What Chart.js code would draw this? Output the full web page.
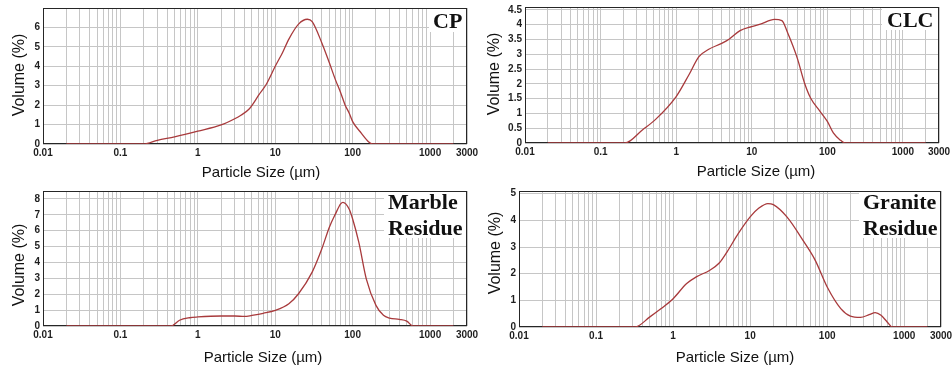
<!DOCTYPE html>
<html><head><meta charset="utf-8">
<script src="https://cdn.jsdelivr.net/npm/chart.js@4.4.1/dist/chart.umd.min.js"></script>
<style>
html,body{margin:0;padding:0;background:#fff;width:952px;height:371px;overflow:hidden;}
canvas{position:absolute;}
</style></head><body>
<canvas id="c1" width="480" height="185" style="left:0;top:0"></canvas>
<canvas id="c2" width="476" height="185" style="left:476px;top:0"></canvas>
<canvas id="c3" width="480" height="186" style="left:0;top:185px"></canvas>
<canvas id="c4" width="476" height="186" style="left:476px;top:185px"></canvas>
<script>
// ---- data ----
const xTickLabels = [0.01, 0.1, 1, 10, 100, 1000, 3000];
const xTitle = 'Particle Size (µm)';
const yTitle = 'Volume (%)';

const cpYTicks = [0, 1, 2, 3, 4, 5, 6];
const clcYTicks = [0, 0.5, 1, 1.5, 2, 2.5, 3, 3.5, 4, 4.5];
const marbleYTicks = [0, 1, 2, 3, 4, 5, 6, 7, 8];
const graniteYTicks = [0, 1, 2, 3, 4, 5];

const cpSize = [0.02, 0.2, 0.3, 0.5, 1, 2, 3, 3.6, 4.6, 6.2, 7.6, 10, 12.4, 15, 20, 26, 30, 40, 50, 60, 70, 80, 90, 100, 130, 160, 180, 2000];
const cpVol  = [0, 0, 0.19, 0.37, 0.66, 0.98, 1.3, 1.48, 1.8, 2.55, 3.05, 4.0, 4.7, 5.4, 6.17, 6.42, 6.3, 5.2, 4.18, 3.3, 2.64, 2.0, 1.6, 1.15, 0.55, 0.12, 0, 0];

const clcSize = [0.02, 0.21, 0.36, 0.53, 1, 1.47, 2, 2.7, 4, 5, 7, 10, 13, 20, 25, 30, 40, 50, 60, 80, 100, 120, 150, 170, 2000];
const clcVol  = [0, 0, 0.45, 0.79, 1.57, 2.3, 2.92, 3.17, 3.37, 3.51, 3.8, 3.94, 4.02, 4.18, 4.14, 3.71, 2.87, 2.02, 1.52, 1.07, 0.73, 0.34, 0.09, 0, 0];

const marbleSize = [0.02, 0.45, 0.58, 0.78, 1, 2, 3, 4, 5, 7, 10, 15, 20, 30, 40, 50, 60, 70, 75, 90, 100, 120, 150, 200, 250, 300, 400, 500, 600, 2000];
const marbleVol  = [0, 0, 0.36, 0.52, 0.57, 0.63, 0.63, 0.6, 0.67, 0.8, 0.98, 1.4, 2.03, 3.39, 4.86, 6.22, 7.06, 7.69, 7.79, 7.37, 6.74, 5.28, 2.97, 1.3, 0.67, 0.5, 0.42, 0.31, 0, 0];

const graniteSize = [0.02, 0.32, 0.5, 0.7, 1, 1.5, 2, 3, 4, 5, 7, 10, 13, 17, 20, 30, 50, 70, 100, 150, 200, 270, 350, 420, 500, 600, 700, 2000];
const graniteVol  = [0, 0, 0.38, 0.69, 1.06, 1.63, 1.88, 2.13, 2.41, 2.81, 3.5, 4.13, 4.46, 4.63, 4.59, 4.13, 3.19, 2.5, 1.5, 0.69, 0.41, 0.36, 0.46, 0.54, 0.44, 0.19, 0, 0];

// ---- helpers ----
function pts(xs, ys) { return xs.map((x, i) => ({x: x, y: ys[i]})); }
function gridTicks() {
  const out = [];
  for (let e = -2; e <= 3; e++) {
    for (let m = 1; m <= 9; m++) {
      const v = +(m * Math.pow(10, e)).toPrecision(3);
      if (v <= 3000) out.push({value: v});
    }
  }
  return out;
}
function xLabel(v) {
  const t = xTickLabels.find(t => Math.abs(t - v) / t < 1e-6);
  return t === undefined ? '' : String(t);
}

const deco = {
  id: 'deco',
  beforeDatasetsDraw(chart, args, o) {
    const ctx = chart.ctx, a = chart.chartArea;
    ctx.save();
    ctx.fillStyle = '#ffffff';
    ctx.fillRect(o.box[0], o.box[1], o.box[2], o.box[3]);
    ctx.strokeStyle = '#262626';
    ctx.lineWidth = 1;
    ctx.strokeRect(Math.round(a.left) + 0.5, Math.round(a.top) + 0.5, Math.round(a.right - a.left) - 1, Math.round(a.bottom - a.top) - 1);
    ctx.restore();
  },
  afterDraw(chart, args, o) {
    const ctx = chart.ctx;
    ctx.save();
    ctx.fillStyle = '#111111';
    ctx.textBaseline = 'middle';
    ctx.textAlign = 'center';
    ctx.font = '15px "Liberation Sans", Arial, sans-serif';
    ctx.fillText(xTitle, o.xt[0], o.xt[1]);
    ctx.save();
    ctx.translate(o.yt[0], o.yt[1]);
    ctx.rotate(-Math.PI / 2);
    ctx.font = '16px "Liberation Sans", Arial, sans-serif';
    ctx.fillText(yTitle, 0, 0);
    ctx.restore();
    ctx.textAlign = 'left';
    ctx.font = 'bold 22px "Liberation Serif", "Times New Roman", serif';
    o.label.forEach((line, i) => ctx.fillText(line, o.lx, o.ly + i * 26));
    ctx.restore();
  }
};

function makeChart(id, xs, ys, yTicks, geo, yMax, deco_o) {
  const tickFont = {family: '"Liberation Sans", Arial, sans-serif', size: 10, weight: 'bold'};
  return new Chart(document.getElementById(id), {
    type: 'line',
    data: { datasets: [{
      data: pts(xs, ys),
      borderColor: '#a83a3c',
      borderWidth: 1.3,
      pointRadius: 0,
      fill: false,
      cubicInterpolationMode: 'monotone'
    }]},
    options: {
      responsive: false,
      animation: false,
      events: [],
      layout: { padding: { top: geo.top, right: geo.right, left: 0, bottom: 0 } },
      plugins: { legend: { display: false }, tooltip: { enabled: false }, deco: deco_o },
      scales: {
        x: {
          type: 'logarithmic', min: 0.01, max: 3000,
          afterBuildTicks: s => { s.ticks = gridTicks(); },
          afterFit: s => { s.height = geo.xh; s.paddingLeft = 0; s.paddingRight = 0; },
          grid: { color: '#c6c6c6', lineWidth: 1, drawTicks: false },
          border: { display: false },
          ticks: { autoSkip: false, maxRotation: 0, minRotation: 0, padding: 3, color: '#1e1e1e', font: tickFont,
                   callback: v => xLabel(v) }
        },
        y: {
          min: 0, max: yMax,
          afterBuildTicks: s => { s.ticks = yTicks.map(v => ({value: v})); },
          afterFit: s => { s.width = geo.yw; s.paddingTop = 0; s.paddingBottom = 0; },
          grid: { color: '#c6c6c6', lineWidth: 1, drawTicks: false },
          border: { display: false },
          ticks: { autoSkip: false, padding: 3, color: '#1e1e1e', font: tickFont, callback: v => String(v) }
        }
      }
    },
    plugins: [deco]
  });
}

makeChart('c1', cpSize, cpVol, cpYTicks, {top: 8, right: 13, yw: 43, xh: 41}, 7,
  {box: [429, 9, 37, 23], xt: [261, 173], yt: [19.5, 75], label: ['CP'], lx: 433, ly: 22});
makeChart('c2', clcSize, clcVol, clcYTicks, {top: 7, right: 13, yw: 49, xh: 42}, 4.6,
  {box: [406, 8, 56, 22], xt: [280, 172], yt: [18.5, 74], label: ['CLC'], lx: 411, ly: 21});
makeChart('c3', marbleSize, marbleVol, marbleYTicks, {top: 6, right: 13, yw: 43, xh: 45}, 8.5,
  {box: [384, 7, 82, 46], xt: [263, 173], yt: [20, 80], label: ['Marble', 'Residue'], lx: 388, ly: 18});
makeChart('c4', graniteSize, graniteVol, graniteYTicks, {top: 6, right: 11, yw: 43, xh: 44}, 5.1,
  {box: [383, 7, 81, 46], xt: [259, 173], yt: [20, 68], label: ['Granite', 'Residue'], lx: 387, ly: 18});
</script>
</body></html>
